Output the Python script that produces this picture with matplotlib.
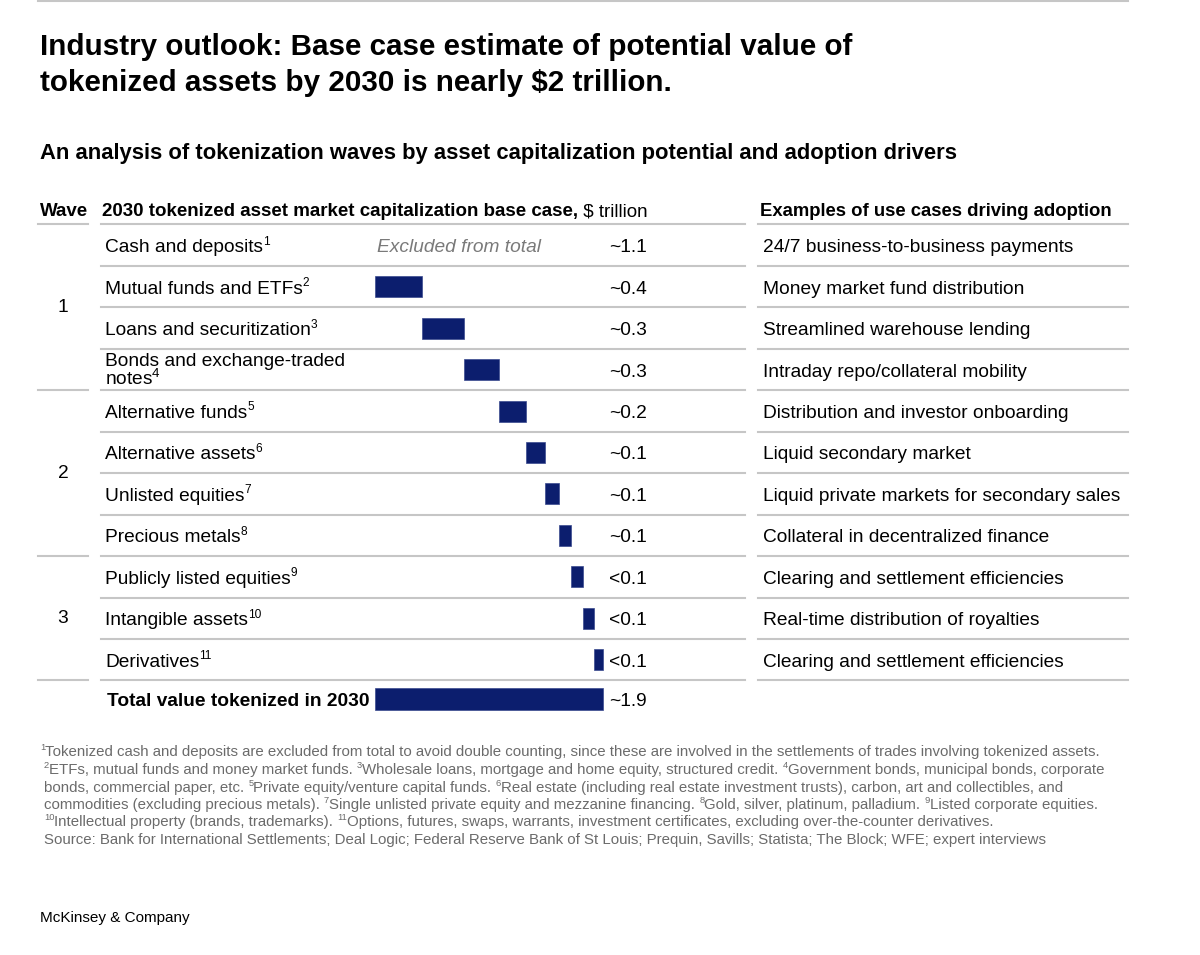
import re
import matplotlib.pyplot as plt

# ---- data ----
wave = [1, 1, 1, 1, 2, 2, 2, 2, 3, 3, 3]
assets = ["Cash and deposits", "Mutual funds and ETFs", "Loans and securitization",
          "Bonds and exchange-traded\nnotes", "Alternative funds", "Alternative assets",
          "Unlisted equities", "Precious metals", "Publicly listed equities",
          "Intangible assets", "Derivatives"]
notes = ["1", "2", "3", "4", "5", "6", "7", "8", "9", "10", "11"]
# $ trillion; cash and deposits is excluded from the total (no bar)
cap_value = [None, 0.395, 0.35, 0.285, 0.225, 0.16, 0.12, 0.1, 0.1, 0.09, 0.075]
cap_label = ["~1.1", "~0.4", "~0.3", "~0.3", "~0.2", "~0.1", "~0.1", "~0.1",
             "<0.1", "<0.1", "<0.1"]
use_cases = ["24/7 business-to-business payments", "Money market fund distribution",
             "Streamlined warehouse lending", "Intraday repo/collateral mobility",
             "Distribution and investor onboarding", "Liquid secondary market",
             "Liquid private markets for secondary sales", "Collateral in decentralized finance",
             "Clearing and settlement efficiencies", "Real-time distribution of royalties",
             "Clearing and settlement efficiencies"]
total_value = 1.9
total_label = "~1.9"

footnotes = [
    "{1}Tokenized cash and deposits are excluded from total to avoid double counting, since these are involved in the settlements of trades involving tokenized assets.",
    "{2}ETFs, mutual funds and money market funds. {3}Wholesale loans, mortgage and home equity, structured credit. {4}Government bonds, municipal bonds, corporate",
    "bonds, commercial paper, etc. {5}Private equity/venture capital funds. {6}Real estate (including real estate investment trusts), carbon, art and collectibles, and",
    "commodities (excluding precious metals). {7}Single unlisted private equity and mezzanine financing. {8}Gold, silver, platinum, palladium. {9}Listed corporate equities.",
    "{10}Intellectual property (brands, trademarks). {11}Options, futures, swaps, warrants, investment certificates, excluding over-the-counter derivatives.",
    "Source: Bank for International Settlements; Deal Logic; Federal Reserve Bank of St Louis; Prequin, Savills; Statista; The Block; WFE; expert interviews",
]

plt.rcParams['font.family'] = ['Liberation Sans', 'DejaVu Sans']
plt.rcParams['mathtext.default'] = 'regular'

W, H = 1200, 955
NAVY = "#0c1e6e"
GRID = "#c6c6c6"
GREY = "#6b6b6b"

fig = plt.figure(figsize=(W / 100, H / 100), dpi=100)
ax = fig.add_axes([0, 0, 1, 1])
ax.set_xlim(0, W)
ax.set_ylim(H, 0)
ax.axis("off")
renderer = fig.canvas.get_renderer()


def runs(x, y, text, size, color="black", weight="normal", style="normal"):
    """Write text on a baseline, turning {n} into superscripts."""
    for i, part in enumerate(re.split(r"\{(\d+)\}", text)):
        if not part:
            continue
        sup = i % 2 == 1
        t = ax.text(x, y - (size * 0.55 if sup else 0), part,
                    fontsize=size * (0.62 if sup else 1), color=color,
                    weight=weight, style=style, va="baseline", ha="left")
        x = t.get_window_extent(renderer).x1
    return x


# top rule
ax.plot([38, 1128], [1, 1], color=GRID, lw=1.5)

ax.text(40, 47, "Industry outlook: Base case estimate of potential value of",
        fontsize=21.3, weight="bold", va="center")
ax.text(40, 83, "tokenized assets by 2030 is nearly $2 trillion.",
        fontsize=21.3, weight="bold", va="center")
ax.text(40, 153, "An analysis of tokenization waves by asset capitalization potential and adoption drivers",
        fontsize=15.8, weight="bold", va="center")

# header
hs = 13.5
hb = 216
runs(40, hb, "Wave", hs, weight="bold")
xe = runs(102, hb, "2030 tokenized asset market capitalization base case,", hs, weight="bold")
runs(xe, hb, " $ trillion", hs)
runs(760, hb, "Examples of use cases driving adoption", 13.3, weight="bold")

top = 224.5
pitch = 41.45
n = len(assets)
centers = [top + pitch * (i + 0.5) for i in range(n)]
seps = [top + pitch * i for i in range(n + 1)]

for i, y in enumerate(seps):
    ax.plot([101, 745], [y, y], color=GRID, lw=1.5)
    ax.plot([758, 1128], [y, y], color=GRID, lw=1.5)
    if i in (0, n) or wave[i] != wave[i - 1]:
        ax.plot([38, 88], [y, y], color=GRID, lw=1.5)

fs = 13.8
# wave numbers
for w in sorted(set(wave)):
    rows = [c for c, v in zip(centers, wave) if v == w]
    ax.text(63, (rows[0] + rows[-1]) / 2, str(w), fontsize=fs, ha="center", va="center")

for i, (c, name, note) in enumerate(zip(centers, assets, notes)):
    if "\n" not in name:
        runs(105, c + 7, name + "{" + note + "}", fs)
    else:
        ax.text(105, c + 15, name + r"$^{" + note + "}$", fontsize=fs,
                va="baseline", ha="left", linespacing=0.88)
    runs(609, c + 7, cap_label[i], fs)
    runs(763, c + 7, use_cases[i], fs)

runs(377, centers[0] + 7, "Excluded from total", fs, color="#7a7a7a", style="italic")

# waterfall bars
bx = fig.add_axes([375 / W, 0, 360 / W, 1])
bx.set_xlim(0, 3.0)
bx.set_ylim(H, 0)
bx.axis("off")
left = 0.0
for c, v in zip(centers, cap_value):
    if v is None:
        continue
    bx.barh(c, v, left=left, height=21, color=NAVY, edgecolor="#3a4a8e", lw=0.5)
    left += v

total_y = 699
bx.barh(total_y, total_value, left=0, height=22, color=NAVY, edgecolor="#3a4a8e", lw=0.5)
runs(107, total_y + 7, "Total value tokenized in 2030", fs, weight="bold")
runs(609, total_y + 7, total_label, fs)

# footnotes
fy = [756, 774, 792, 809, 826, 844]
for k, (y, line) in enumerate(zip(fy, footnotes)):
    runs(40 if k == 0 else 44, y, line, 10.85, color=GREY)

ax.text(40, 918, "McKinsey & Company", fontsize=11, va="center")

fig.savefig("out.png", dpi=100)
